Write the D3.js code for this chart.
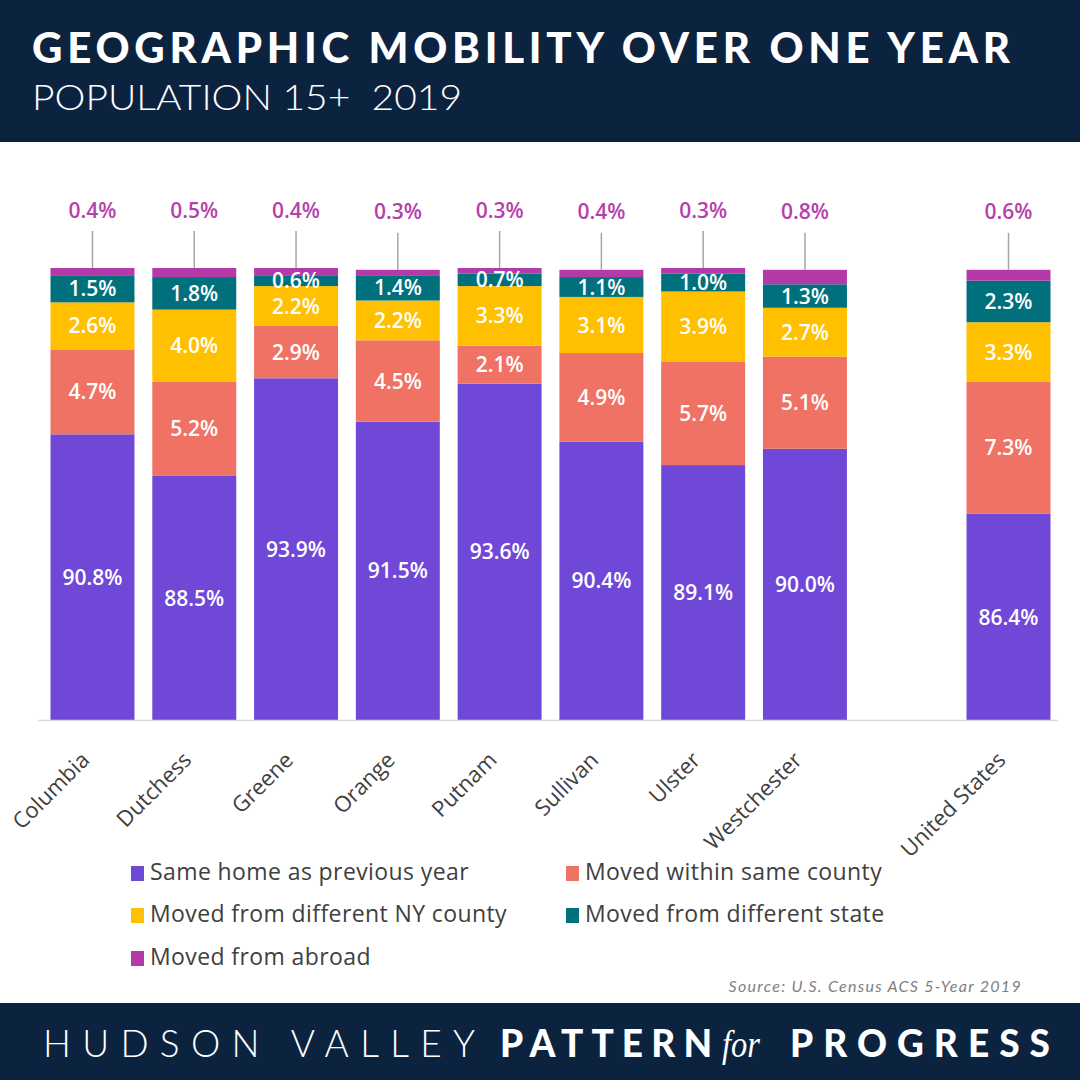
<!DOCTYPE html>
<html>
<head>
<meta charset="utf-8">
<script src="https://cdn.jsdelivr.net/npm/d3@7"></script>
<style>
  html, body { margin: 0; padding: 0; background: #fff; }
  svg { display: block; }
</style>
</head>
<body>
<svg id="chart" width="1080" height="1080"></svg>
<script>
// ---- Data ----
const categories = ["Columbia", "Dutchess", "Greene", "Orange", "Putnam", "Sullivan", "Ulster", "Westchester", "", "United States"];
const sameHome     = [90.8, 88.5, 93.9, 91.5, 93.6, 90.4, 89.1, 90.0, null, 86.4];
const withinCounty = [4.7, 5.2, 2.9, 4.5, 2.1, 4.9, 5.7, 5.1, null, 7.3];
const diffNYCounty = [2.6, 4.0, 2.2, 2.2, 3.3, 3.1, 3.9, 2.7, null, 3.3];
const diffState    = [1.5, 1.8, 0.6, 1.4, 0.7, 1.1, 1.0, 1.3, null, 2.3];
const abroad       = [0.4, 0.5, 0.4, 0.3, 0.3, 0.4, 0.3, 0.8, null, 0.6];
const seriesNames  = ["Same home as previous year", "Moved within same county", "Moved from different NY county", "Moved from different state", "Moved from abroad"];
const yDomain = [75, 100];

// ---- Styles ----
const colors = ["#7048d8", "#f07264", "#ffc000", "#00717c", "#b33aa7"];
const navy = "#0c2340";
const labelFont = "'Open Sans', 'Noto Sans', sans-serif";

const svg = d3.select("#chart");

// header
svg.append("rect").attr("x", 0).attr("y", 0).attr("width", 1080).attr("height", 142).attr("fill", navy);
svg.append("text").attr("x", 32).attr("y", 63)
  .attr("font-family", "Lato, 'Open Sans', sans-serif").attr("font-weight", 900).attr("font-size", 42)
  .attr("fill", "#fff").attr("textLength", 978).attr("lengthAdjust", "spacing")
  .text("GEOGRAPHIC MOBILITY OVER ONE YEAR");
svg.append("text").attr("x", 32).attr("y", 110)
  .attr("font-family", "Lato, 'Open Sans', sans-serif").attr("font-weight", 300).attr("font-size", 36)
  .attr("fill", "#fff").attr("textLength", 430).attr("lengthAdjust", "spacingAndGlyphs")
  .style("white-space", "pre")
  .text("POPULATION 15+  2019");

// footer
svg.append("rect").attr("x", 0).attr("y", 1003).attr("width", 1080).attr("height", 77).attr("fill", navy);
svg.append("text").attr("x", 43).attr("y", 1057)
  .attr("font-family", "Lato, 'Open Sans', sans-serif").attr("font-weight", 300).attr("font-size", 37)
  .attr("fill", "#fff").attr("textLength", 432).attr("lengthAdjust", "spacing")
  .text("HUDSON VALLEY");
svg.append("text").attr("x", 500).attr("y", 1057)
  .attr("font-family", "Lato, 'Open Sans', sans-serif").attr("font-weight", 900).attr("font-size", 37)
  .attr("fill", "#fff").attr("textLength", 212).attr("lengthAdjust", "spacing")
  .text("PATTERN");
svg.append("text").attr("x", 722).attr("y", 1057)
  .attr("font-family", "'Liberation Serif', serif").attr("font-style", "italic").attr("font-size", 38)
  .attr("fill", "#fff").attr("textLength", 38).attr("lengthAdjust", "spacingAndGlyphs")
  .text("for");
svg.append("text").attr("x", 790).attr("y", 1057)
  .attr("font-family", "Lato, 'Open Sans', sans-serif").attr("font-weight", 900).attr("font-size", 37)
  .attr("fill", "#fff").attr("textLength", 260).attr("lengthAdjust", "spacing")
  .text("PROGRESS");

// ---- Scales ----
const x = d3.scaleBand().domain(categories).range([41.6, 1059.4]).paddingInner(0.175).paddingOuter(0.0875);
const y = d3.scaleLinear().domain(yDomain).range([720, 268]);

const rows = categories.map((c, i) => ({
  cat: c,
  s0: sameHome[i], s1: withinCounty[i], s2: diffNYCounty[i], s3: diffState[i], s4: abroad[i]
})).filter(d => d.s0 != null);

const keys = ["s0", "s1", "s2", "s3", "s4"];
const stacked = d3.stack().keys(keys)(rows);

const g = svg.append("g");

// axis
const axis = d3.axisBottom(x).tickSize(0).tickPadding(0);
const axG = svg.append("g").attr("transform", "translate(0,720)").call(axis);
axG.select(".domain").attr("stroke", "#d9d9d9").attr("stroke-width", 1.5).attr("d", "M38,0.5H1058");
axG.selectAll(".tick text")
  .attr("font-family", labelFont).attr("font-size", 22).attr("fill", "#404040")
  .attr("text-anchor", "end").attr("dy", "0.35em").attr("y", 0)
  .attr("transform", "translate(-7,36) rotate(-45)");

// bars
stacked.forEach((layer, li) => {
  g.selectAll(null).data(layer).enter().append("rect")
    .attr("x", d => x(d.data.cat))
    .attr("width", x.bandwidth())
    .attr("y", d => y(d[1]))
    .attr("height", d => y(Math.max(d[0], yDomain[0])) - y(d[1]))
    .attr("fill", colors[li]);
});

// inner labels (first four series)
stacked.slice(0, 4).forEach((layer, li) => {
  g.selectAll(null).data(layer).enter().append("text")
    .attr("x", d => x(d.data.cat) + x.bandwidth() / 2)
    .attr("y", d => (y(Math.max(d[0], yDomain[0])) + y(d[1])) / 2)
    .attr("dy", "0.36em")
    .attr("text-anchor", "middle")
    .attr("font-family", labelFont).attr("font-weight", 600).attr("font-size", 21)
    .attr("fill", "#fff")
    .text(d => d.data[keys[li]].toFixed(1) + "%");
});

// abroad labels with leader lines
const topLayer = stacked[4];
g.selectAll(null).data(topLayer).enter().append("line")
  .attr("x1", d => x(d.data.cat) + x.bandwidth() / 2)
  .attr("x2", d => x(d.data.cat) + x.bandwidth() / 2)
  .attr("y1", d => y(d[1]) - 37)
  .attr("y2", d => y(d[1]))
  .attr("stroke", "#a6a6a6").attr("stroke-width", 1.5);
g.selectAll(null).data(topLayer).enter().append("text")
  .attr("x", d => x(d.data.cat) + x.bandwidth() / 2)
  .attr("y", d => y(d[1]) - 58)
  .attr("dy", "0.36em")
  .attr("text-anchor", "middle")
  .attr("font-family", labelFont).attr("font-weight", 600).attr("font-size", 21)
  .attr("fill", "#b63fab")
  .text(d => d.data.s4.toFixed(1) + "%");

// legend
const legendPos = [[131, 872], [566, 872], [131, 914], [566, 914], [131, 957]];
const lg = svg.append("g");
seriesNames.forEach((name, i) => {
  const [lx, ly] = legendPos[i];
  lg.append("rect").attr("x", lx).attr("y", ly - 6).attr("width", 13).attr("height", 15).attr("fill", colors[i]);
  lg.append("text").attr("x", lx + 19).attr("y", ly).attr("dy", "0.36em")
    .attr("font-family", labelFont).attr("font-size", 23).attr("fill", "#404040")
    .attr("letter-spacing", 0.4)
    .text(name);
});

// source
svg.append("text").attr("x", 1022).attr("y", 992)
  .attr("text-anchor", "end")
  .attr("font-family", "Lato, 'Open Sans', sans-serif").attr("font-style", "italic").attr("font-size", 16)
  .attr("fill", "#808080").attr("letter-spacing", 1.3)
  .text("Source: U.S. Census ACS 5-Year 2019");
</script>
</body>
</html>
